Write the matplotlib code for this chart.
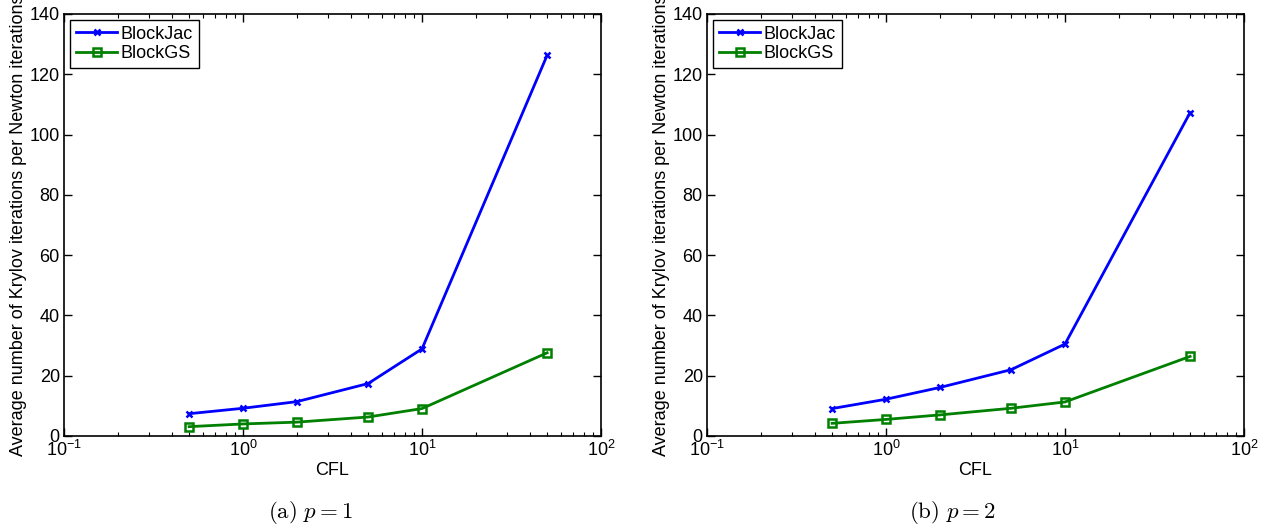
import matplotlib
matplotlib.use("Agg")
from matplotlib import pyplot as plt
from matplotlib.ticker import LogLocator, NullFormatter

plt.rcParams['font.family'] = ['Liberation Sans', 'DejaVu Sans']
plt.rcParams['mathtext.fontset'] = 'cm'

# data
cfl = [0.5, 1, 2, 5, 10, 50]
jac_p1 = [7.4, 9.2, 11.4, 17.4, 28.9, 126.3]
gs_p1 = [3.1, 4.0, 4.6, 6.3, 9.1, 27.6]
jac_p2 = [9.1, 12.2, 16.1, 22.0, 30.5, 107.3]
gs_p2 = [4.2, 5.5, 7.0, 9.2, 11.3, 26.4]
captions = [r"$\mathrm{(a)}\ p=1$", r"$\mathrm{(b)}\ p=2$"]

fig = plt.figure(figsize=(12.73, 5.31), dpi=100)
W, H = 1273, 531
lefts = [64, 707]
width = 537
top, bottom = 14, 436
cap_x = [310, 952]
fs = 13

for i, (jac, gs) in enumerate([(jac_p1, gs_p1), (jac_p2, gs_p2)]):
    ax = fig.add_axes([lefts[i] / W, 1 - bottom / H, width / W, (bottom - top) / H])
    ax.plot(cfl, jac, color=(0, 0, 1), lw=2, marker='x', ms=5, mew=1.8, label='BlockJac')
    ax.plot(cfl, gs, color=(0, 0.5, 0), lw=2, marker='s', ms=6, mew=1.8,
            mfc='none', label='BlockGS')
    ax.set_xscale('log')
    ax.set_xlim(0.1, 100)
    ax.set_ylim(0, 140)
    ax.set_yticks(range(0, 141, 20))
    ax.xaxis.set_minor_locator(LogLocator(base=10, subs=range(2, 10)))
    ax.xaxis.set_minor_formatter(NullFormatter())
    ax.tick_params(which='both', direction='in', top=True, right=True, labelsize=fs)
    ax.tick_params(which='major', length=6, width=1, pad=3)
    ax.tick_params(which='minor', length=3, width=0.8)
    for s in ax.spines.values():
        s.set_linewidth(1.2)
    ax.set_xlabel('CFL', fontsize=fs, labelpad=1)
    # label is longer than the axes, it runs off the top like in the original
    ax.set_ylabel('Average number of Krylov iterations per Newton iterations',
                  fontsize=fs, labelpad=2)
    leg = ax.legend(loc='upper left', fontsize=fs, fancybox=False, framealpha=1,
                    edgecolor='black', borderpad=0.3, labelspacing=0.15,
                    handlelength=2.3, handletextpad=0.2, borderaxespad=0.35)
    leg.get_frame().set_linewidth(1.0)
    fig.text(cap_x[i] / W, 1 - 513 / H, captions[i],
             ha='center', va='center', fontsize=16.5)

fig.savefig('out.png', dpi=100)
